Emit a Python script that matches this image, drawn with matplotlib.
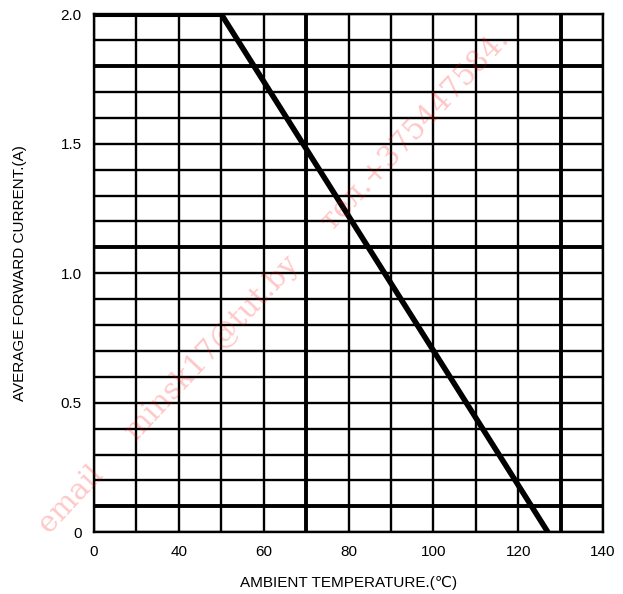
import numpy as np
import matplotlib.pyplot as plt

# derating curve: average forward current vs ambient temperature
temp = [20, 50, 127]
current = [2.0, 2.0, 0.0]

x_ticks = [20, 40, 60, 80, 100, 120, 140]
x_labels = ['0', '40', '60', '80', '100', '120', '140']
y_ticks = [0, 0.5, 1.0, 1.5, 2.0]
y_labels = ['0', '0.5', '1.0', '1.5', '2.0']

x_grid = np.arange(20, 141, 10)
y_grid = np.round(np.arange(0, 2.01, 0.1), 2)
x_thick = [70, 130]
y_thick = [0.1, 1.1, 1.8]

plt.rcParams['font.family'] = ['Liberation Sans', 'DejaVu Sans']

fig = plt.figure(figsize=(6.23, 5.94), dpi=100)
ax = fig.add_axes([0.151, 0.104, 0.817, 0.872])

# grade
for xv in x_grid:
    lw = 2.8 if xv in x_thick else 1.7
    ax.axvline(xv, color='black', lw=lw, zorder=1)
for yv in y_grid:
    lw = 2.8 if yv in y_thick else 1.7
    ax.axhline(yv, color='black', lw=lw, zorder=1)

ax.plot(temp, current, color='black', lw=4.0, solid_capstyle='butt', zorder=3)

ax.set_xlim(20, 140)
ax.set_ylim(0, 2.0)
ax.set_xticks(x_ticks)
ax.set_xticklabels(x_labels)
ax.set_yticks(y_ticks)
ax.set_yticklabels(y_labels)
ax.tick_params(length=0, labelsize=11, pad=9)
for s in ax.spines.values():
    s.set_linewidth(1.7)

ax.set_xlabel('AMBIENT TEMPERATURE.(℃)', fontsize=11, labelpad=12)
ax.set_ylabel('AVERAGE FORWARD CURRENT.(A)', fontsize=11, labelpad=24)

# marca d'agua
fig.text(0.44, 0.525, 'email     minsk17@tut.by     тел.+375447584.',
         fontsize=21, family='DejaVu Serif', color='red', alpha=0.22,
         rotation=47, ha='center', va='center', zorder=10)

fig.savefig('out.png', dpi=100)
